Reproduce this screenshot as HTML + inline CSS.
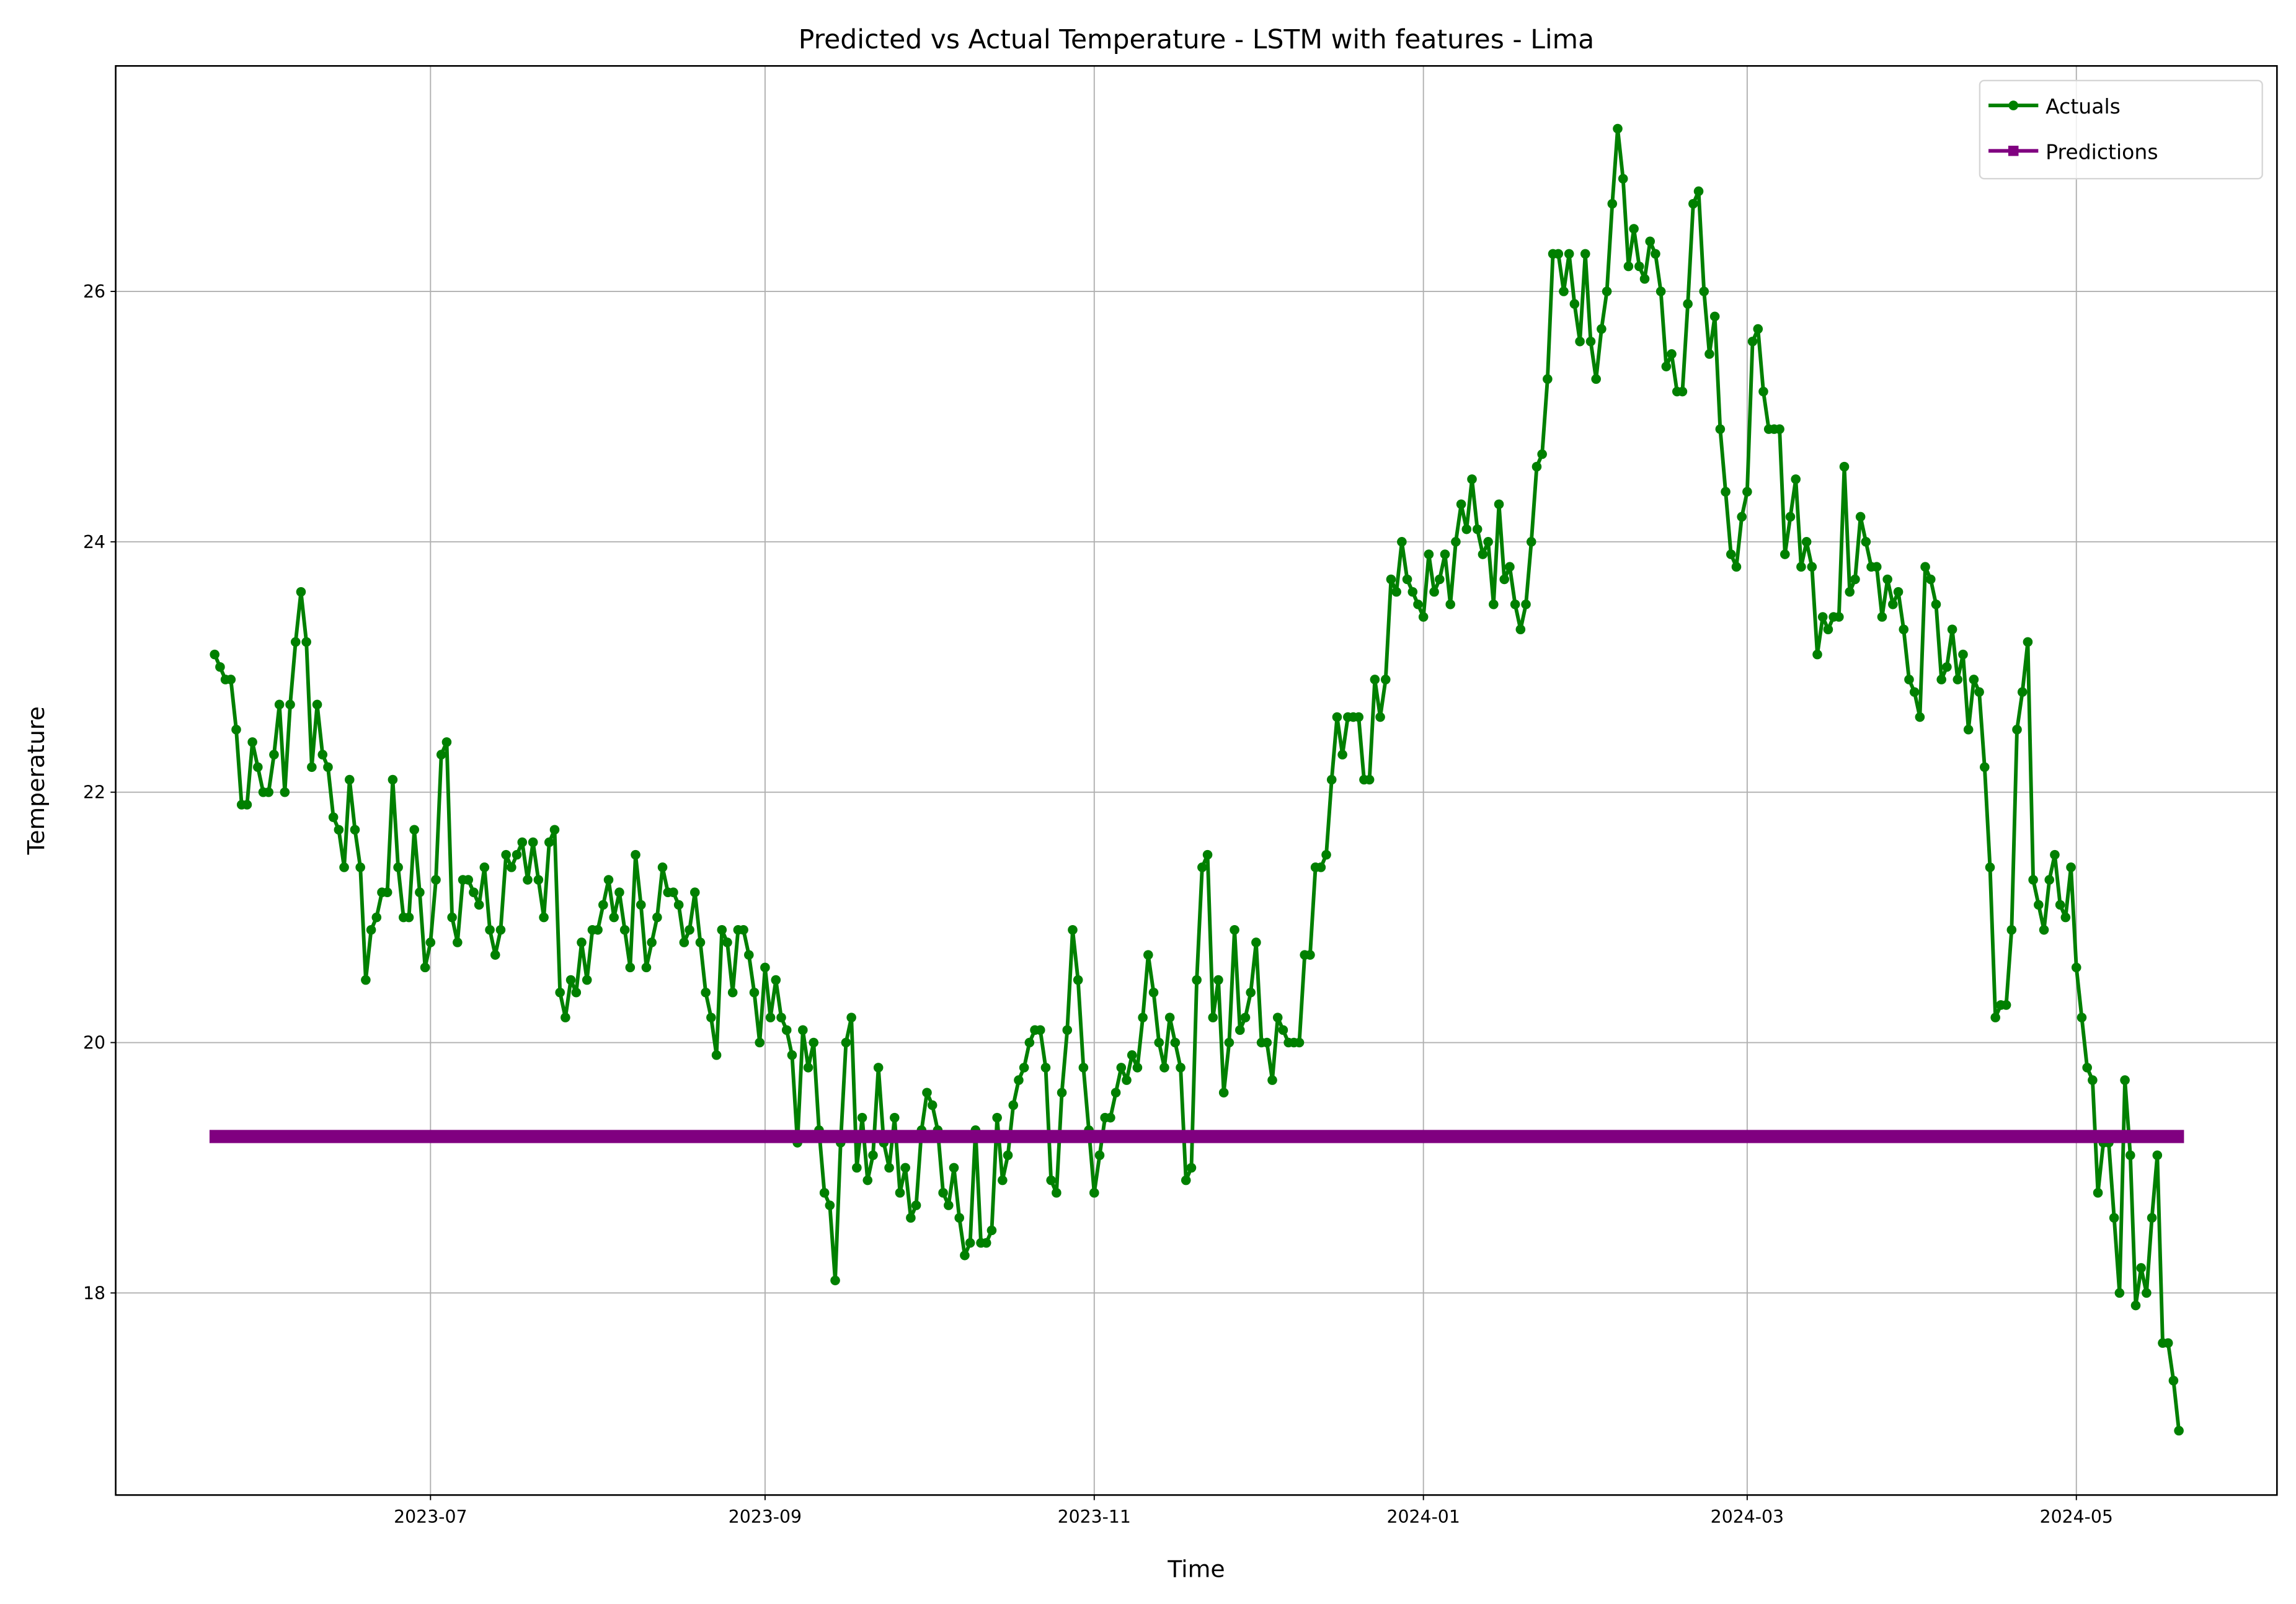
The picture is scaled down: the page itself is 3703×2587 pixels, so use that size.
<!DOCTYPE html>
<html><head><meta charset="utf-8"><style>
html,body{margin:0;padding:0;background:#fff;}
svg{display:block;font-family:"DejaVu Sans","Liberation Sans",sans-serif;}
</style></head><body>
<svg id="chart" width="3703" height="2587" viewBox="0 0 1568 1095.4" xmlns="http://www.w3.org/2000/svg">
<rect width="1568" height="1095.4" fill="#fff"/>
<text x="817" y="33" font-size="18" text-anchor="middle">Predicted vs Actual Temperature - LSTM with features - Lima</text>
<g id="grid"></g>
<g id="series"></g>
<rect x="79" y="45" width="1476" height="976" fill="none" stroke="#000" stroke-width="1.1"/>
<g id="ticks"></g>
<text x="817" y="1077" font-size="16" text-anchor="middle">Time</text>
<text x="0" y="0" font-size="16" text-anchor="middle" transform="translate(30,533) rotate(-90)">Temperature</text>
<g>
<rect x="1352" y="55" width="193" height="67" rx="3" fill="#fff" fill-opacity="0.8" stroke="#d6d6d6" stroke-width="1"/>
<g>
<line x1="1358" y1="72" x2="1392" y2="72" stroke="green" stroke-width="2.5"/>
<circle cx="1375" cy="72" r="3.3" fill="green"/>
<text x="1397" y="77.5" font-size="14">Actuals</text></g>
<g>
<line x1="1358" y1="103" x2="1392" y2="103" stroke="purple" stroke-width="2.5"/>
<rect x="1371.5" y="99.5" width="7" height="7" fill="purple"/>
<text x="1397" y="108.5" font-size="14">Predictions</text></g>
</g>
</svg>
<script>
const startDate = "2023-05-22";
const actuals = [
23.1,23.0,22.9,22.9,22.5,21.9,21.9,22.4,22.2,22.0,
22.0,22.3,22.7,22.0,22.7,23.2,23.6,23.2,22.2,22.7,22.3,22.2,21.8,21.7,21.4,22.1,21.7,21.4,20.5,20.9,21.0,21.2,21.2,22.1,21.4,21.0,21.0,21.7,21.2,20.6,
20.8,21.3,22.3,22.4,21.0,20.8,21.3,21.3,21.2,21.1,21.4,20.9,20.7,20.9,21.5,21.4,21.5,21.6,21.3,21.6,21.3,21.0,21.6,21.7,20.4,20.2,20.5,20.4,20.8,20.5,20.9,
20.9,21.1,21.3,21.0,21.2,20.9,20.6,21.5,21.1,20.6,20.8,21.0,21.4,21.2,21.2,21.1,20.8,20.9,21.2,20.8,20.4,20.2,19.9,20.9,20.8,20.4,20.9,20.9,20.7,20.4,20.0,
20.6,20.2,20.5,20.2,20.1,19.9,19.2,20.1,19.8,20.0,19.3,18.8,18.7,18.1,19.2,20.0,20.2,19.0,19.4,18.9,19.1,19.8,19.2,19.0,19.4,18.8,19.0,18.6,18.7,19.3,
19.6,19.5,19.3,18.8,18.7,19.0,18.6,18.3,18.4,19.3,18.4,18.4,18.5,19.4,18.9,19.1,19.5,19.7,19.8,20.0,20.1,20.1,19.8,18.9,18.8,19.6,20.1,20.9,20.5,19.8,19.3,
18.8,19.1,19.4,19.4,19.6,19.8,19.7,19.9,19.8,20.2,20.7,20.4,20.0,19.8,20.2,20.0,19.8,18.9,19.0,20.5,21.4,21.5,20.2,20.5,19.6,20.0,20.9,20.1,20.2,20.4,
20.8,20.0,20.0,19.7,20.2,20.1,20.0,20.0,20.0,20.7,20.7,21.4,21.4,21.5,22.1,22.6,22.3,22.6,22.6,22.6,22.1,22.1,22.9,22.6,22.9,23.7,23.6,24.0,23.7,23.6,23.5,
23.4,23.9,23.6,23.7,23.9,23.5,24.0,24.3,24.1,24.5,24.1,23.9,24.0,23.5,24.3,23.7,23.8,23.5,23.3,23.5,24.0,24.6,24.7,25.3,26.3,26.3,26.0,26.3,25.9,25.6,26.3,
25.6,25.3,25.7,26.0,26.7,27.3,26.9,26.2,26.5,26.2,26.1,26.4,26.3,26.0,25.4,25.5,25.2,25.2,25.9,26.7,26.8,26.0,25.5,25.8,24.9,24.4,23.9,23.8,24.2,
24.4,25.6,25.7,25.2,24.9,24.9,24.9,23.9,24.2,24.5,23.8,24.0,23.8,23.1,23.4,23.3,23.4,23.4,24.6,23.6,23.7,24.2,24.0,23.8,23.8,23.4,23.7,23.5,23.6,23.3,22.9,
22.8,22.6,23.8,23.7,23.5,22.9,23.0,23.3,22.9,23.1,22.5,22.9,22.8,22.2,21.4,20.2,20.3,20.3,20.9,22.5,22.8,23.2,21.3,21.1,20.9,21.3,21.5,21.1,21.0,21.4,
20.6,20.2,19.8,19.7,18.8,19.2,19.2,18.6,18.0,19.7,19.1,17.9,18.2,18.0,18.6,19.1,17.6,17.6,17.3,16.9
];
const predictionValue = 19.25;
const yTicks = [18, 20, 22, 24, 26];
const xTickLabels = ["2023-07","2023-09","2023-11","2024-01","2024-03","2024-05"];

const NS = "http://www.w3.org/2000/svg";
const DAY = 86400000;
const t0 = Date.parse("2023-07-01T00:00:00Z");
function xScale(ms){ return 294 + (ms - t0) / DAY * (1124/305); }
function yScale(v){ return 883 - (v - 18) * 85.5; }
function mk(tag, attrs, parent){ const e=document.createElementNS(NS,tag); for(const k in attrs) e.setAttribute(k,attrs[k]); parent.appendChild(e); return e; }

const grid=document.getElementById('grid'), ticks=document.getElementById('ticks'), series=document.getElementById('series');
const s0 = Date.parse(startDate+"T00:00:00Z");
const dates = actuals.map((_,i)=> s0 + i*DAY);

yTicks.forEach(v=>{
  const y=yScale(v);
  const g=mk('line',{x1:79,x2:1555,y1:y,y2:y,stroke:'#b0b0b0','stroke-width':0.8},grid);
  
  
  mk('line',{x1:75.5,x2:79,y1:y,y2:y,stroke:'#000','stroke-width':0.8},ticks);
  const t=mk('text',{x:72,y:y+4.2,'font-size':12,'text-anchor':'end'},ticks);
  
  
  t.textContent=v;
});
xTickLabels.forEach(lbl=>{
  const x=xScale(Date.parse(lbl+"-01T00:00:00Z"));
  const g=mk('line',{x1:x,x2:x,y1:45,y2:1021,stroke:'#b0b0b0','stroke-width':0.8},grid);
  
  
  mk('line',{x1:x,x2:x,y1:1021,y2:1024.5,stroke:'#000','stroke-width':0.8},ticks);
  const t=mk('text',{x:x,y:1040,'font-size':12,'text-anchor':'middle'},ticks);
  
  
  t.textContent=lbl;
});

const pts = actuals.map((v,i)=> xScale(dates[i]).toFixed(2)+','+yScale(v).toFixed(2)).join(' ');
const line = mk('polyline',{points:pts,fill:'none',stroke:'green','stroke-width':2.5,'stroke-linejoin':'round'},series);


const mg = mk('g',{fill:'green'},series);


actuals.forEach((v,i)=>{
  const c=mk('circle',{cx:xScale(dates[i]),cy:yScale(v),r:3.3},mg);
  
  
});
const py = yScale(predictionValue);
const pl = mk('line',{x1:xScale(dates[0])-3.5,x2:xScale(dates[dates.length-1])+3.5,y1:py,y2:py,stroke:'purple','stroke-width':9},series);


</script>
</body></html>
